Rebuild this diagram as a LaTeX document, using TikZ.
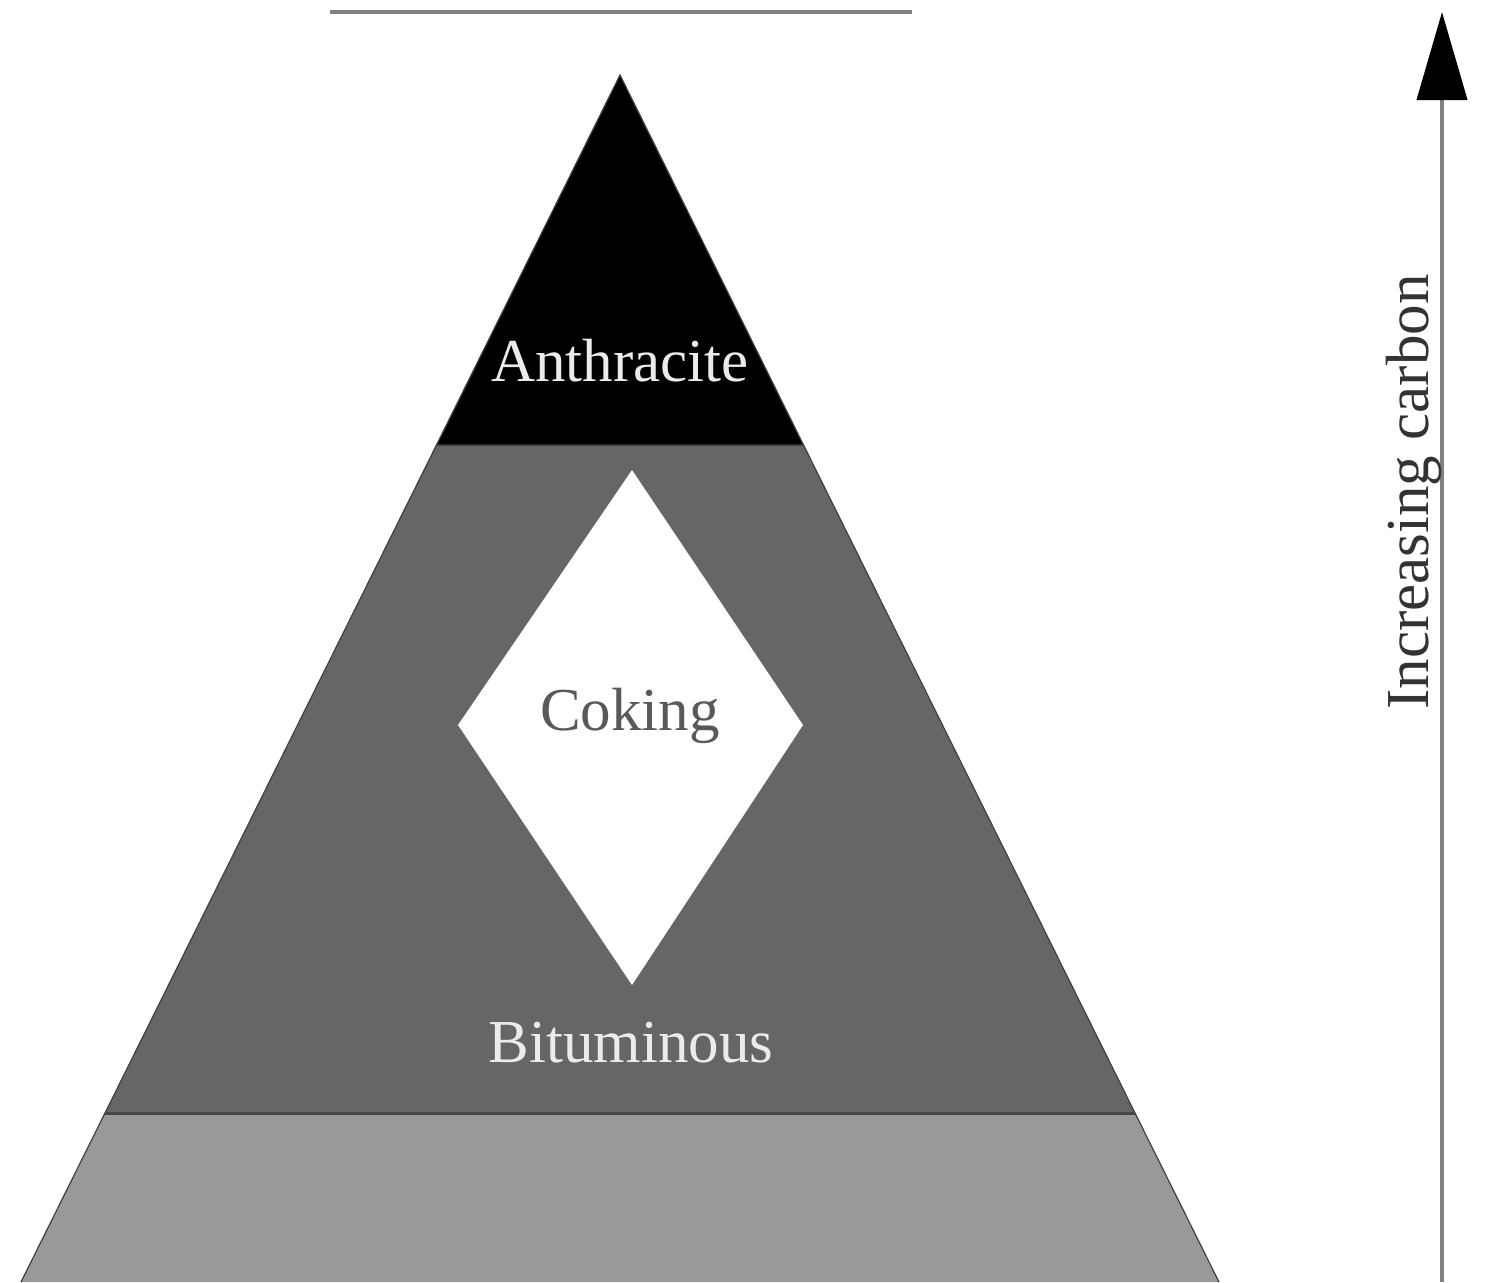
\documentclass[tikz,border=0pt]{standalone}
\usepackage{fontspec}
\setmainfont{Liberation Serif}
\usetikzlibrary{arrows.meta}
\begin{document}
\begin{tikzpicture}[x=0.5pt,y=-0.5pt,
  band/.style={draw=black!75,line width=0.6pt},
  lbl/.style={font=\fontsize{30.5}{34}\selectfont,inner sep=0pt,anchor=base}]
\useasboundingbox (0,0) rectangle (1486,1282);
\fill[white] (0,0) rectangle (1486,1282);
% top line
\coordinate (tl1) at (330,12);
\coordinate (tl2) at (912,12);
\draw[line width=2pt,color=black!50] (tl1) -- (tl2);
% pyramid bands
\coordinate (apex) at (620,75);
\coordinate (a1) at (436.5,445);
\coordinate (a2) at (803.5,445);
\coordinate (b1) at (105,1113);
\coordinate (b2) at (1135,1113);
\coordinate (c1) at (21,1282);
\coordinate (c2) at (1219,1282);
\fill[black!40] (b1) -- (b2) -- (c2) -- (c1) -- cycle;
\draw[band] (b2) -- (c2) (b1) -- (c1);
\filldraw[band,fill=black!60] (a1) -- (a2) -- (b2) -- (b1) -- cycle;
\filldraw[band,fill=black] (apex) -- (a2) -- (a1) -- cycle;
\draw[line width=1.5pt,color=black!72] (b1) -- (b2);
% diamond
\coordinate (dt) at (632,470);
\coordinate (dr) at (803,725);
\coordinate (db) at (632,985);
\coordinate (dl) at (458,725);
\fill[white] (dt) -- (dr) -- (db) -- (dl) -- cycle;
% labels
\node[lbl,text=black!8] (anth) at (620,381) {Anthracite};
\node[lbl,text=black!65] (cok) at (630,730) {Coking};
\node[lbl,text=black!8] (bit) at (631,1062) {Bituminous};
% arrow
\coordinate (ab) at (1442,1282);
\coordinate (at) at (1442,12);
\draw[line width=2pt,color=black!50,-{Triangle[length=44pt,width=25pt,color=black]}] (ab) -- (at);
\node[lbl,anchor=base,rotate=90,text=black!80] (inc) at (1428,492) {Increasing carbon};
\end{tikzpicture}
\end{document}
